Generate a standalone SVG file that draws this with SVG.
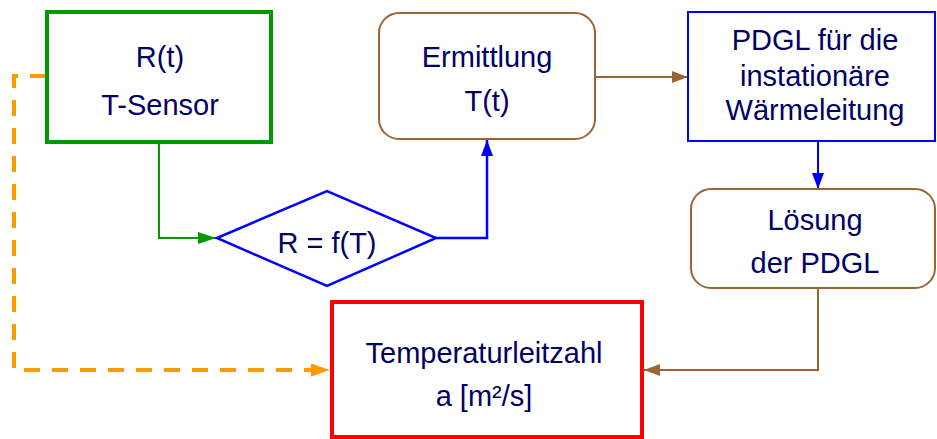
<svg xmlns="http://www.w3.org/2000/svg" width="937" height="439" viewBox="0 0 937 439">
<style>
text{font-family:"Liberation Sans",Arial,sans-serif;font-size:29px;fill:#000066;text-anchor:middle}
.brownbox{fill:#fff;stroke:#996633;stroke-width:2}
</style>
<defs>
<marker id="ag" markerUnits="userSpaceOnUse" markerWidth="18" markerHeight="12" refX="18" refY="6" orient="auto"><path d="M0,0L18,6L0,12z" fill="#009900"/></marker>
<marker id="ab" markerUnits="userSpaceOnUse" markerWidth="16" markerHeight="12" refX="16" refY="6" orient="auto"><path d="M0,0L16,6L0,12z" fill="#0000ff"/></marker>
<marker id="ar" markerUnits="userSpaceOnUse" markerWidth="16" markerHeight="12" refX="16" refY="6" orient="auto"><path d="M0,0L16,6L0,12z" fill="#996633"/></marker>
<marker id="ao" markerUnits="userSpaceOnUse" markerWidth="19" markerHeight="13" refX="19" refY="6.5" orient="auto"><path d="M0,0L19,6.5L0,13z" fill="#ff9900"/></marker>
</defs>
<rect width="937" height="439" fill="#fff"/>
<g id="connectors" fill="none">
<path d="M46,76H14V370H330" stroke="#ff9900" stroke-width="4" stroke-dasharray="16,12" marker-end="url(#ao)"/>
<path d="M159,142V238H216" stroke="#009900" stroke-width="2" marker-end="url(#ag)"/>
<path d="M436,238H487V140" stroke="#0000ff" stroke-width="2.5" marker-end="url(#ab)"/>
<path d="M595,77H688" stroke="#996633" stroke-width="2" marker-end="url(#ar)"/>
<path d="M818,141V189" stroke="#0000ff" stroke-width="2" marker-end="url(#ab)"/>
<path d="M818,288V370H644" stroke="#996633" stroke-width="2" marker-end="url(#ar)"/>
</g>
<g id="sensor">
<rect x="47" y="12" width="224" height="130" fill="#fff" stroke="#009900" stroke-width="4"/>
<text x="160" y="67">R(t)</text>
<text x="160" y="115">T-Sensor</text>
</g>
<g id="ermittlung">
<rect class="brownbox" x="379" y="13" width="216" height="126" rx="20"/>
<text x="487" y="67">Ermittlung</text>
<text x="487" y="111">T(t)</text>
</g>
<g id="pdgl">
<rect x="688" y="12" width="247" height="129" fill="#fff" stroke="#0000ff" stroke-width="2"/>
<text x="815" y="50">PDGL für die</text>
<text x="815" y="86">instationäre</text>
<text x="815" y="120">Wärmeleitung</text>
</g>
<g id="loesung">
<rect class="brownbox" x="691" y="189" width="244" height="99" rx="20"/>
<text x="815" y="230">Lösung</text>
<text x="815" y="273">der PDGL</text>
</g>
<g id="relation">
<path d="M217,238L327,191L436,238L327,286z" fill="#fff" stroke="#0000ff" stroke-width="2.5"/>
<text x="327" y="253">R = f(T)</text>
</g>
<g id="result">
<rect x="332" y="302" width="310" height="135" fill="#fff" stroke="#ff0000" stroke-width="4"/>
<text x="484" y="363">Temperaturleitzahl</text>
<text x="484" y="406">a [m²/s]</text>
</g>
</svg>
